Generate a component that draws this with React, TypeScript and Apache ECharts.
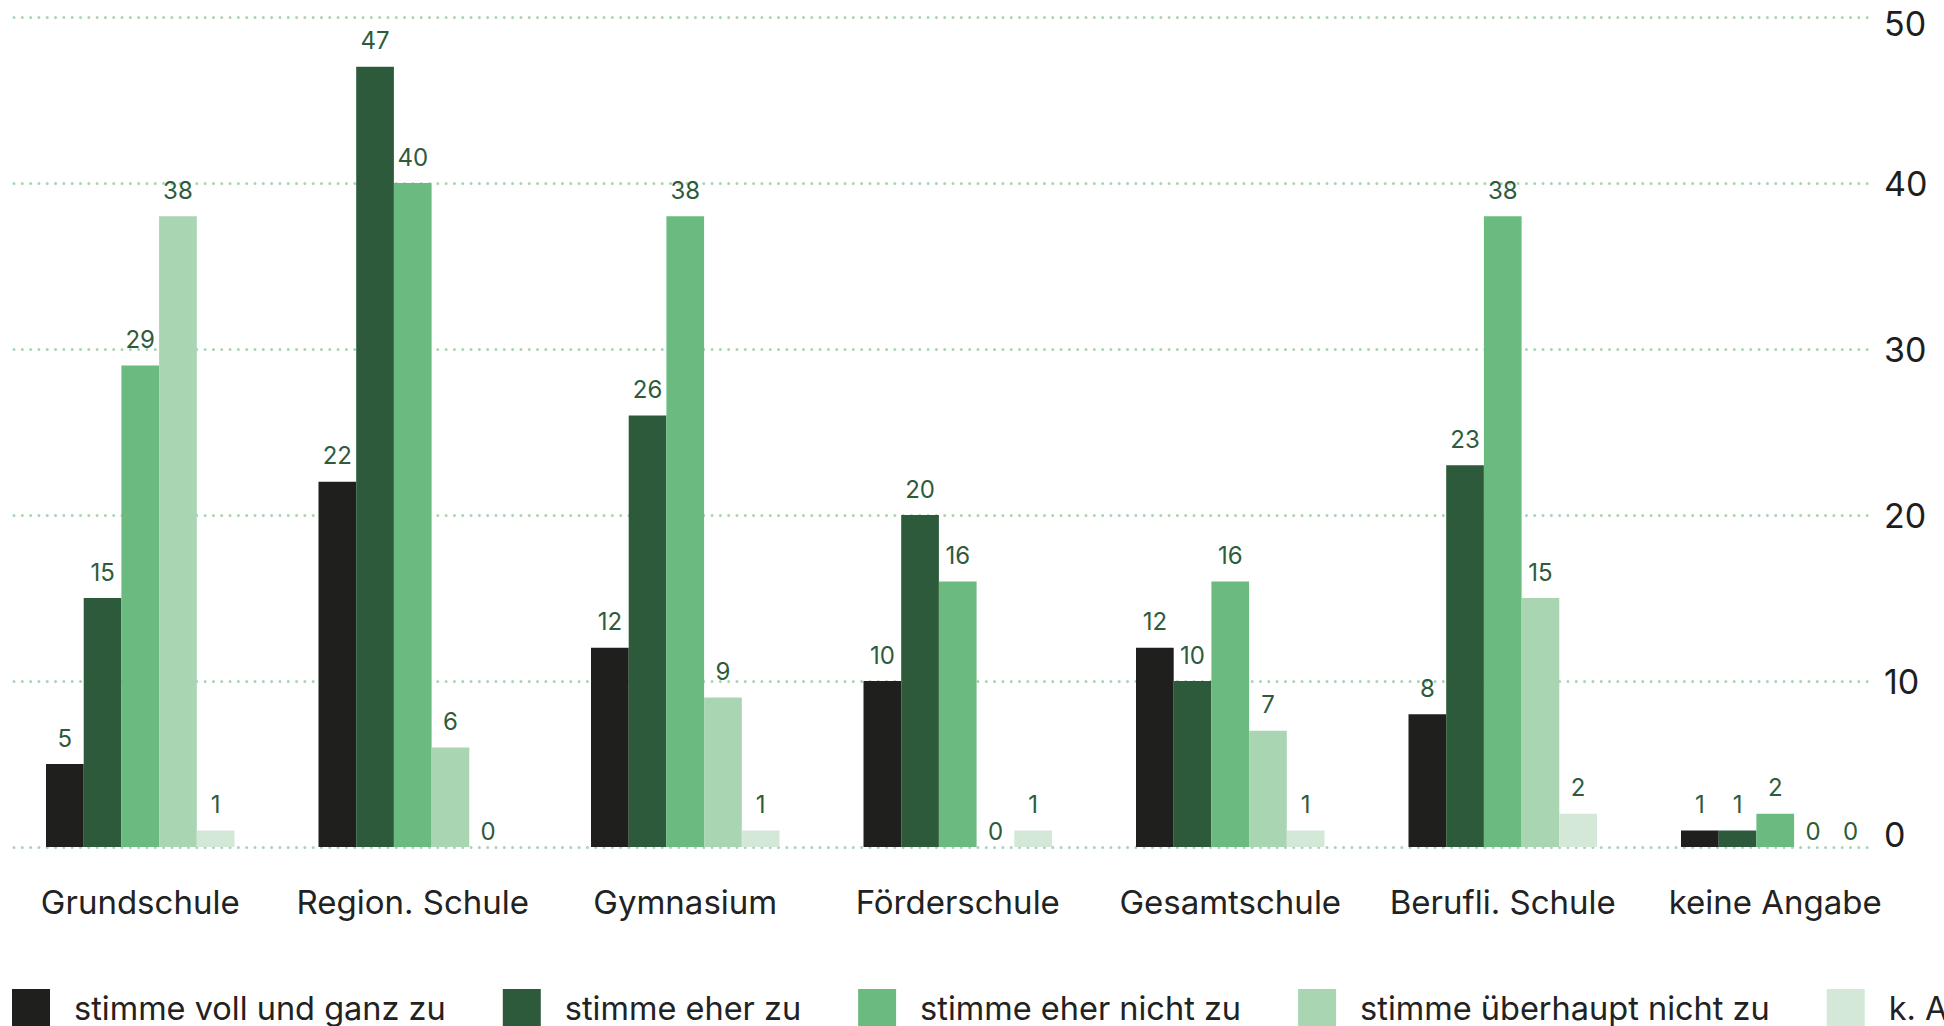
import React, { useEffect, useRef } from "react";
import * as echarts from "echarts";

const categories = [
  "Grundschule",
  "Region. Schule",
  "Gymnasium",
  "Förderschule",
  "Gesamtschule",
  "Berufli. Schule",
  "keine Angabe",
];

const seriesNames = [
  "stimme voll und ganz zu",
  "stimme eher zu",
  "stimme eher nicht zu",
  "stimme überhaupt nicht zu",
  "k. A.",
];

const vollUndGanz = [5, 22, 12, 10, 12, 8, 1];
const eherZu = [15, 47, 26, 20, 10, 23, 1];
const eherNicht = [29, 40, 38, 16, 16, 38, 2];
const ueberhauptNicht = [38, 6, 9, 0, 7, 15, 0];
const keineAngabe = [1, 0, 1, 1, 1, 2, 0];

const seriesValues = [vollUndGanz, eherZu, eherNicht, ueberhauptNicht, keineAngabe];
const colors = ["#1f1f1e", "#2d5a3b", "#6bbb80", "#a9d5b2", "#d4e8d8"];

const yMin = 0;
const yMax = 50;
const yInterval = 10;

const FONT = "Inter";

export default function App() {
  const ref = useRef<HTMLDivElement>(null);

  useEffect(() => {
    document.body.style.margin = "0";
    if (!ref.current) return;
    const chart = echarts.init(ref.current, undefined, { renderer: "svg" });

    const option: any = {
      animation: false,
      textStyle: { fontFamily: FONT },
      grid: [
        { left: 4, right: 32.5, top: 17, bottom: 179, containLabel: false },
        { left: 14, right: 76, top: 17, bottom: 179, containLabel: false },
      ],
      xAxis: [
        {
          type: "category",
          gridIndex: 0,
          data: categories,
          axisLine: { show: false },
          axisTick: { show: false },
          axisLabel: {
            color: "#222222",
            fontSize: 33,
            fontFamily: FONT,
            margin: 38,
            interval: 0,
          },
        },
        {
          type: "value",
          gridIndex: 1,
          min: 0,
          max: 1,
          show: false,
        },
      ],
      yAxis: [
        {
          type: "value",
          gridIndex: 0,
          min: yMin,
          max: yMax,
          interval: yInterval,
          show: false,
          splitLine: { show: false },
        },
        {
          type: "value",
          gridIndex: 1,
          position: "right",
          min: yMin,
          max: yMax,
          interval: yInterval,
          axisLine: { show: false },
          axisTick: { show: false },
          axisLabel: {
            color: "#1e1e1e",
            fontSize: 34,
            fontFamily: FONT,
            margin: 16,
            formatter: (v: number) =>
              v === yMax ? "{top|" + v + "}" : v === yMin ? "{bot|" + v + "}" : "{mid|" + v + "}",
            rich: {
              top: { fontSize: 34, fontFamily: FONT, color: "#1e1e1e", padding: [12, 0, 0, 0] },
              bot: { fontSize: 34, fontFamily: FONT, color: "#1e1e1e", padding: [0, 0, 26, 0] },
              mid: { fontSize: 34, fontFamily: FONT, color: "#1e1e1e" },
            },
          },
          splitLine: {
            show: true,
            lineStyle: {
              color: "#a9d5b2",
              width: 3,
              type: [0.01, 8.3],
              cap: "round",
            },
          },
        },
      ],
      legend: {
        left: 12,
        top: 989,
        width: 3000,
        padding: 0,
        itemWidth: 38,
        itemHeight: 38,
        itemGap: 57,
        icon: "rect",
        textStyle: {
          color: "#222222",
          fontSize: 32.5,
          fontFamily: FONT,
          padding: [0, 0, 0, 19],
        },
        data: seriesNames,
      },
      series: seriesNames.map((name, i) => ({
        type: "bar",
        name,
        xAxisIndex: 0,
        yAxisIndex: 0,
        data: seriesValues[i].map((v) =>
          v === 0 ? { value: v, label: { distance: 4 } } : v
        ),
        barWidth: 37.7,
        barGap: "0%",
        itemStyle: { color: colors[i] },
        label: {
          show: true,
          position: "top",
          distance: 14,
          color: "#2e5b3c",
          fontSize: 24,
          fontFamily: FONT,
        },
      })),
    };

    chart.setOption(option);
    return () => chart.dispose();
  }, []);

  return <div ref={ref} style={{ width: 1944, height: 1026 }} />;
}
